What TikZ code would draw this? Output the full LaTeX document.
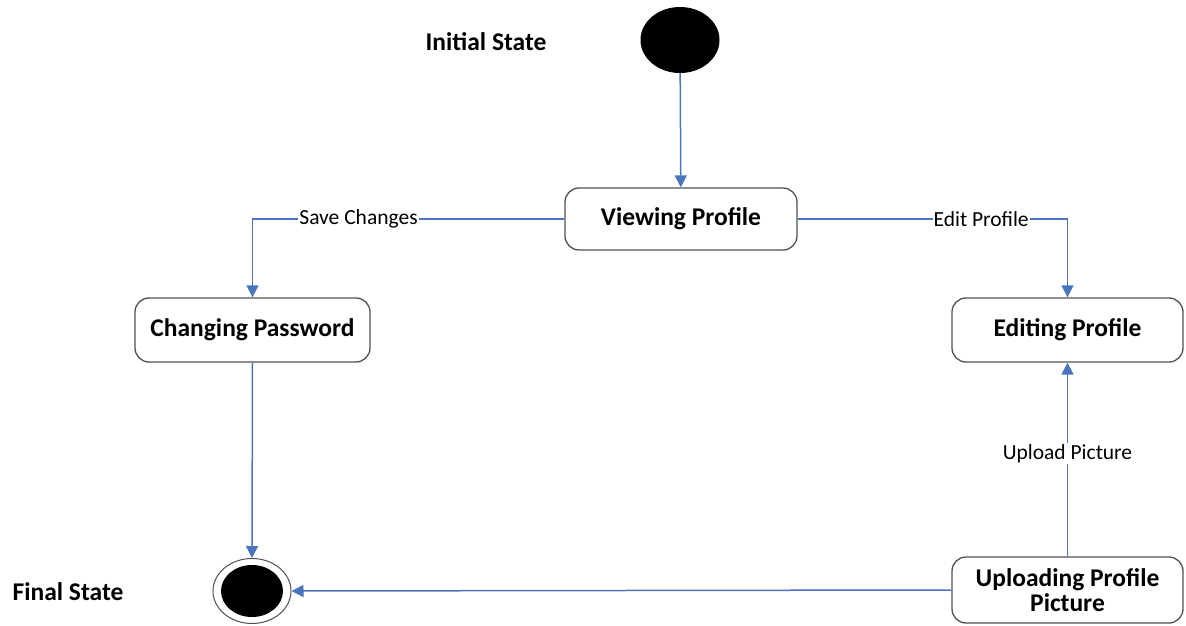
\documentclass[tikz,border=0pt]{standalone}
\usepackage{fontspec}
\setmainfont{Carlito}
\usetikzlibrary{arrows.meta,shapes.geometric}
\definecolor{linkblue}{HTML}{4A75BD}
\definecolor{boxgray}{HTML}{505050}
\tikzset{
  statebox/.style={draw=boxgray, line width=1.3pt, rounded corners=14pt, fill=white,
    font=\bfseries\fontsize{25.5}{25}\selectfont, align=center, inner sep=0pt},
  conn/.style={draw=linkblue, line width=1.5pt, -{Triangle[width=12pt,length=12pt]}},
  lbl/.style={fill=white, inner sep=1pt, font=\fontsize{21.5}{23}\selectfont},
  caption/.style={font=\bfseries\fontsize{25.5}{28}\selectfont}
}
\begin{document}
\begin{tikzpicture}[x=1pt,y=-1pt]
  \useasboundingbox (0,0) rectangle (1186,626);
  % pseudo states
  \node[ellipse, draw=black, fill=black, line width=1pt, minimum width=78pt, minimum height=65pt, inner sep=0pt] (init) at (680,40) {};
  \node[ellipse, draw=boxgray, line width=1pt, minimum width=78pt, minimum height=65pt, inner sep=0pt] (final) at (252,591) {};
  \node[ellipse, fill=black, minimum width=62pt, minimum height=52pt, inner sep=0pt] (finalcore) at (252,591) {};
  \node[caption] (initlbl) at (486,42) {Initial State};
  \node[caption] (finallbl) at (68,592) {Final State};
  % states
  \node[statebox, minimum width=232pt, minimum height=62pt] (view) at (681,219) {Viewing Profile};
  \node[statebox, minimum width=235pt, minimum height=64pt] (pass) at (252.5,330) {Changing Password};
  \node[statebox, minimum width=231pt, minimum height=64pt] (edit) at (1067.5,330) {Editing Profile};
  \node[statebox, minimum width=231pt, minimum height=66pt] (upl) at (1067.5,590) {Uploading Profile\\Picture};
  % transitions
  \draw[conn] (init) -- (view);
  \draw[conn] (view.west) -| node[lbl, pos=0.33] {Save Changes} (pass.north);
  \draw[conn] (view.east) -| node[lbl, pos=0.34] {Edit Profile} (edit.north);
  \draw[conn] (pass.south) -- (final.north);
  \draw[conn] (upl.north) -- node[lbl, pos=0.53] {Upload Picture} (edit.south);
  \draw[conn] (upl.west) -- (final.east);
\end{tikzpicture}
\end{document}
